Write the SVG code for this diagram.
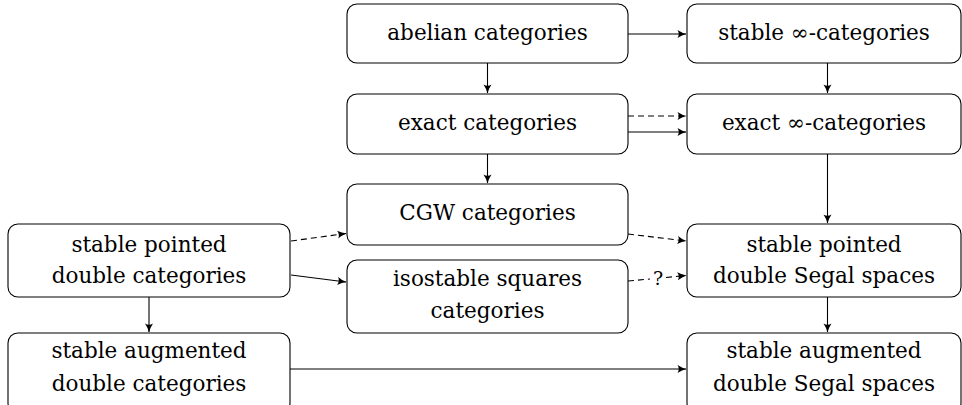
<svg xmlns="http://www.w3.org/2000/svg" width="962" height="405" viewBox="0 0 962 405">
<style>
.box{fill:#fff;stroke:#000;stroke-width:1.1}
.t{font-family:"DejaVu Serif","Liberation Serif",serif;font-size:21.5px;text-anchor:middle;fill:#000}
.e{fill:none;stroke:#000;stroke-width:1.1}
.d{stroke-dasharray:6 4}
</style>
<defs>
<marker id="ah" viewBox="0 0 10 10" refX="9" refY="5" markerWidth="10" markerHeight="10" markerUnits="userSpaceOnUse" orient="auto">
<path d="M0.5,1 Q5,4 9.5,5 Q5,6 0.5,9 Q3,5 0.5,1 Z" fill="#000"/>
</marker>
</defs>
<rect width="962" height="405" fill="#fff"/>
<g id="abelian"><rect class="box" x="347" y="4" width="281" height="59" rx="10"/><text class="t" x="487.5" y="40">abelian categories</text></g>
<g id="stableinf"><rect class="box" x="687" y="4" width="274" height="59" rx="10"/><text class="t" x="824" y="40">stable ∞-categories</text></g>
<g id="exact"><rect class="box" x="347" y="94" width="281" height="60" rx="10"/><text class="t" x="487.5" y="130">exact categories</text></g>
<g id="exactinf"><rect class="box" x="687" y="94" width="274" height="60" rx="10"/><text class="t" x="824" y="130">exact ∞-categories</text></g>
<g id="cgw"><rect class="box" x="347" y="184" width="281" height="61" rx="10"/><text class="t" x="487.5" y="220">CGW categories</text></g>
<g id="isostable"><rect class="box" x="347" y="260" width="281" height="73" rx="10"/><text class="t" x="487.5" y="286">isostable squares</text><text class="t" x="487.5" y="318">categories</text></g>
<g id="spdc"><rect class="box" x="8" y="224" width="282" height="73" rx="10"/><text class="t" x="149" y="252">stable pointed</text><text class="t" x="149" y="283">double categories</text></g>
<g id="sadc"><rect class="box" x="8" y="333" width="282" height="80" rx="10"/><text class="t" x="149" y="358">stable augmented</text><text class="t" x="149" y="391">double categories</text></g>
<g id="spds"><rect class="box" x="687" y="224" width="274" height="73" rx="10"/><text class="t" x="824" y="252">stable pointed</text><text class="t" x="824" y="283">double Segal spaces</text></g>
<g id="sads"><rect class="box" x="687" y="333" width="274" height="80" rx="10"/><text class="t" x="824" y="358">stable augmented</text><text class="t" x="824" y="391">double Segal spaces</text></g>
<g id="connectors">
<line class="e" x1="628" y1="34" x2="686" y2="34" marker-end="url(#ah)"/>
<line class="e" x1="487.5" y1="63" x2="487.5" y2="93" marker-end="url(#ah)"/>
<line class="e" x1="827.5" y1="63" x2="827.5" y2="93" marker-end="url(#ah)"/>
<line class="e d" x1="628" y1="116" x2="686" y2="116" marker-end="url(#ah)"/>
<line class="e" x1="628" y1="132" x2="686" y2="132" marker-end="url(#ah)"/>
<line class="e" x1="487.5" y1="154" x2="487.5" y2="183" marker-end="url(#ah)"/>
<line class="e" x1="827.5" y1="154" x2="827.5" y2="223" marker-end="url(#ah)"/>
<line class="e d" x1="291" y1="241" x2="346" y2="233.5" marker-end="url(#ah)"/>
<line class="e d" x1="628" y1="234" x2="686" y2="241" marker-end="url(#ah)"/>
<line class="e" x1="291" y1="275" x2="346" y2="282" marker-end="url(#ah)"/>
<line class="e d" x1="628" y1="281" x2="650" y2="279" />
<line class="e d" x1="666" y1="277.5" x2="686" y2="275.5" marker-end="url(#ah)"/>
<text class="t" x="658" y="285" style="font-size:19px">?</text>
<line class="e" x1="149" y1="297" x2="149" y2="332" marker-end="url(#ah)"/>
<line class="e" x1="827.5" y1="297" x2="827.5" y2="332" marker-end="url(#ah)"/>
<line class="e" x1="290" y1="369" x2="686" y2="369" marker-end="url(#ah)"/>
</g>
</svg>
